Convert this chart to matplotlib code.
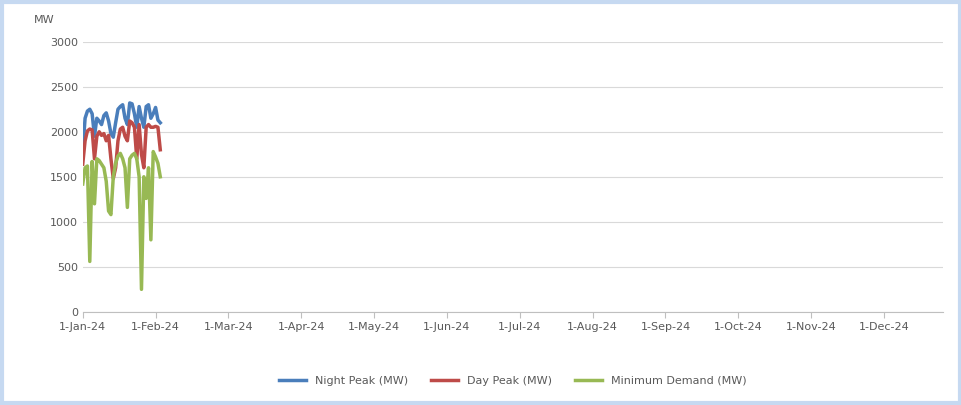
import matplotlib.pyplot as plt

month_labels = ["1-Jan-24", "1-Feb-24", "1-Mar-24", "1-Apr-24", "1-May-24", "1-Jun-24",
                "1-Jul-24", "1-Aug-24", "1-Sep-24", "1-Oct-24", "1-Nov-24", "1-Dec-24"]
night = [1780, 2150, 2230, 2250, 2200, 1950, 2150, 2120, 2080, 2180, 2210, 2120, 1980, 1940, 2100, 2250, 2280, 2300, 2150, 2080, 2320, 2310, 2200, 2050, 2280, 2150, 2050, 2280, 2300, 2150, 2200, 2270, 2130, 2100]
day = [1640, 1900, 2010, 2030, 2020, 1700, 1950, 2000, 1960, 1980, 1900, 1960, 1700, 1480, 1600, 1900, 2030, 2050, 1950, 1900, 2120, 2100, 2050, 1700, 2080, 1750, 1600, 2050, 2080, 2050, 2050, 2060, 2050, 1800]
minimum = [1420, 1600, 1620, 560, 1670, 1200, 1700, 1680, 1640, 1600, 1450, 1120, 1080, 1500, 1650, 1730, 1760, 1700,
           1600, 1160, 1700, 1740, 1760, 1700, 1500, 250, 1500, 1260, 1600, 800, 1780, 1720, 1650, 1500]

days = list(range(len(night)))

fig, ax = plt.subplots(figsize=(9.62, 4.05), dpi=100)
fig.subplots_adjust(left=0.086, right=0.98, top=0.897, bottom=0.23)
ax.plot(days, night, color="#4a7ebb", lw=2.5, label="Night Peak (MW)")
ax.plot(days, day, color="#be4b48", lw=2.5, label="Day Peak (MW)")
ax.plot(days, minimum, color="#98b954", lw=2.5, label="Minimum Demand (MW)")

ax.set_ylim(0, 3000)
ax.set_yticks(range(0, 3001, 500))
ax.set_xlim(0, 366)
ax.set_xticks([31 * i for i in range(len(month_labels))])
ax.set_xticklabels(month_labels)
ax.grid(axis="y", color="#d9d9d9", lw=0.8)
for s in ["top", "right", "left"]:
    ax.spines[s].set_visible(False)
ax.spines["bottom"].set_color("#bfbfbf")
ax.tick_params(labelsize=8, colors="#595959", length=0)
ax.tick_params(axis="x", length=4, color="#bfbfbf")
ax.text(-0.057, 1.07, "MW", transform=ax.transAxes, fontsize=8, color="#595959")
ax.legend(loc="upper center", bbox_to_anchor=(0.5, -0.2), ncol=3, frameon=False,
          fontsize=8, labelcolor="#595959", handlelength=2.5)
fig.patches.append(plt.Rectangle((0.002, 0.005), 0.996, 0.99, transform=fig.transFigure,
                                 fill=False, edgecolor="#c6d9f1", lw=3))
fig.savefig("out.png")
